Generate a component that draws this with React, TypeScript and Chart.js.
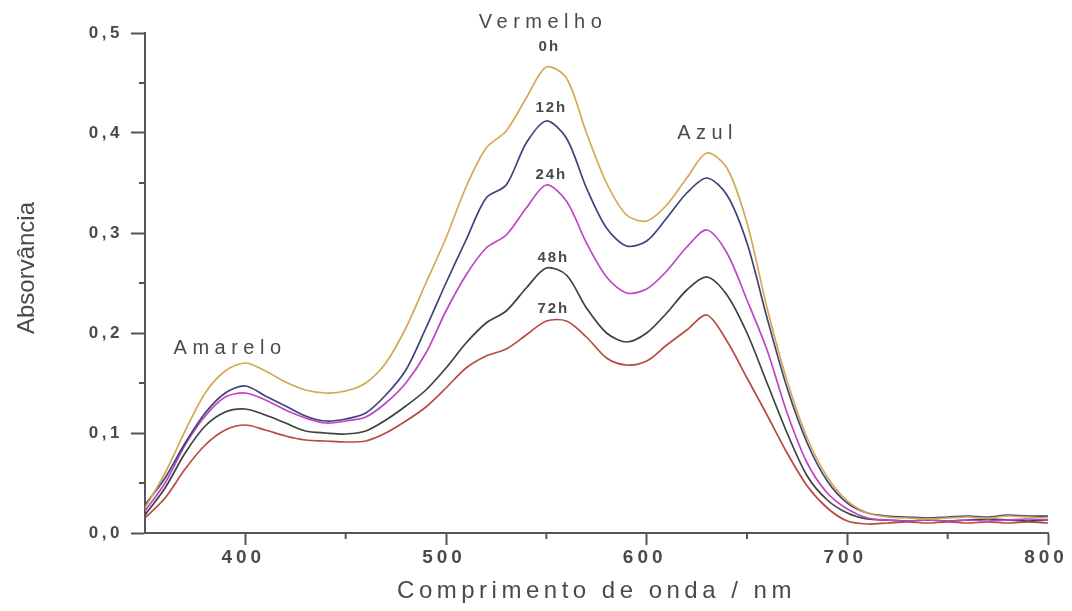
import React, { useEffect, useRef } from 'react';
import { Chart, registerables } from 'chart.js';

Chart.register(...registerables);

// Wavelength (nm)
const wavelengths = [
  350, 360, 370, 380, 390, 400, 410, 420, 430, 440,
  450, 460, 470, 480, 490, 500, 510, 520, 530, 540,
  550, 560, 570, 580, 590, 600, 610, 620, 630, 640,
  650, 660, 670, 680, 690, 700, 710, 720, 730, 740,
  750, 760, 770, 780, 790, 800,
];

const abs0h = [
  0.025, 0.06, 0.102, 0.14, 0.162, 0.17, 0.162, 0.151, 0.143, 0.14,
  0.142, 0.15, 0.17, 0.205, 0.25, 0.295, 0.346, 0.385, 0.402, 0.435,
  0.466, 0.455, 0.4, 0.35, 0.318, 0.312, 0.328, 0.355, 0.38, 0.365,
  0.31, 0.225, 0.152, 0.095, 0.056, 0.032, 0.02, 0.016, 0.015, 0.014,
  0.015, 0.016, 0.015, 0.017, 0.016, 0.015,
];

const abs12h = [
  0.028, 0.055, 0.09, 0.12, 0.14, 0.147, 0.137, 0.127, 0.117, 0.112,
  0.114, 0.12, 0.138, 0.163, 0.205, 0.25, 0.293, 0.335, 0.348, 0.39,
  0.412, 0.395, 0.345, 0.305, 0.287, 0.292, 0.315, 0.34, 0.355, 0.338,
  0.29, 0.215, 0.145, 0.09, 0.052, 0.03, 0.02, 0.017, 0.016, 0.015,
  0.016, 0.017, 0.016, 0.018, 0.017, 0.017,
];

const abs24h = [
  0.022, 0.05, 0.088, 0.117, 0.136, 0.14, 0.133, 0.123, 0.115, 0.11,
  0.112, 0.116, 0.13, 0.15, 0.18, 0.222, 0.258, 0.285, 0.298, 0.325,
  0.348, 0.332, 0.29, 0.256, 0.24, 0.244, 0.262, 0.286, 0.303, 0.28,
  0.233, 0.183, 0.12, 0.07, 0.04, 0.024, 0.015, 0.013, 0.012, 0.013,
  0.012, 0.013, 0.012, 0.013, 0.014, 0.013,
];

const abs48h = [
  0.018, 0.045, 0.08, 0.107, 0.121, 0.124, 0.118, 0.11, 0.102, 0.1,
  0.099, 0.102, 0.113, 0.127, 0.143, 0.165, 0.19, 0.21, 0.222, 0.245,
  0.265, 0.258, 0.225, 0.2, 0.191, 0.2, 0.22, 0.243, 0.256, 0.238,
  0.2, 0.15, 0.1, 0.057, 0.033, 0.02, 0.014, 0.013, 0.012, 0.013,
  0.012, 0.013, 0.014, 0.013, 0.012, 0.013,
];

const abs72h = [
  0.015, 0.035, 0.064, 0.088, 0.103, 0.108, 0.103, 0.097, 0.093, 0.092,
  0.091, 0.092, 0.1, 0.112, 0.126, 0.145, 0.165, 0.177, 0.184, 0.198,
  0.212, 0.212, 0.196, 0.175, 0.168, 0.172, 0.188, 0.203, 0.218, 0.192,
  0.155, 0.118, 0.08, 0.047, 0.025, 0.012, 0.009, 0.01, 0.011, 0.01,
  0.011, 0.01, 0.011, 0.01, 0.011, 0.01,
];

const seriesLabels = ['0h', '12h', '24h', '48h', '72h'];
const seriesValues = [abs0h, abs12h, abs24h, abs48h, abs72h];
const seriesColors = ['#d6a852', '#3d4479', '#c045c6', '#39443e', '#b84a42'];

const xTicks = [400, 500, 600, 700, 800];
const xMinorTicks = [450, 550, 650, 750];
const yTicks = [0, 0.1, 0.2, 0.3, 0.4, 0.5];
const yMinorTicks = [0.05, 0.15, 0.25, 0.35, 0.45];

// In-plot annotations (text, wavelength, absorbance)
const annLabels = ['Vermelho', '0h', '12h', '24h', '48h', '72h', 'Azul', 'Amarelo'];
const annX = [547, 551, 552, 552, 553, 553, 629, 391];
const annY = [0.511, 0.486, 0.425, 0.358, 0.275, 0.224, 0.4, 0.185];

const FONT = "'Liberation Sans', Arial, sans-serif";
const AXIS_COLOR = '#555555';
const TEXT_COLOR = '#4a4a4a';

function patch(scale: any, method: string, spacing: number, dx = 0, dy = 0) {
  const key = '__patched_' + method;
  if (scale[key]) return;
  scale[key] = true;
  const orig = scale[method];
  scale[method] = function (...args: any[]) {
    const ctx = this.ctx;
    ctx.save();
    (ctx as any).letterSpacing = spacing + 'px';
    if (dx || dy) ctx.translate(dx, dy);
    orig.apply(this, args);
    ctx.restore();
  };
}

const minorTicksPlugin = {
  id: 'minorTicks',
  afterDraw(chart: any) {
    const { ctx, scales } = chart;
    const x = scales.x;
    const y = scales.y;
    ctx.save();
    ctx.strokeStyle = AXIS_COLOR;
    ctx.lineWidth = 2;
    xMinorTicks.forEach((v) => {
      const px = x.getPixelForValue(v);
      ctx.beginPath();
      ctx.moveTo(px, y.bottom);
      ctx.lineTo(px, y.bottom + 6);
      ctx.stroke();
    });
    yMinorTicks.forEach((v) => {
      const py = y.getPixelForValue(v);
      ctx.beginPath();
      ctx.moveTo(x.left, py);
      ctx.lineTo(x.left - 6, py);
      ctx.stroke();
    });
    ctx.restore();
  },
};

const annotationPlugin = {
  id: 'annotations',
  afterDatasetsDraw(chart: any) {
    const { ctx, scales } = chart;
    ctx.save();
    ctx.fillStyle = TEXT_COLOR;
    ctx.textAlign = 'center';
    ctx.textBaseline = 'middle';
    annLabels.forEach((t, i) => {
      const big = t.length > 3;
      const spacing = big ? 5.5 : 2;
      ctx.font = big ? `20px ${FONT}` : `bold 15px ${FONT}`;
      (ctx as any).letterSpacing = spacing + 'px';
      const px = scales.x.getPixelForValue(annX[i]);
      const py = scales.y.getPixelForValue(annY[i]);
      ctx.fillText(t, px + spacing / 2, py);
    });
    ctx.restore();
  },
};

export default function App() {
  const canvasRef = useRef<HTMLCanvasElement | null>(null);

  useEffect(() => {
    const canvas = canvasRef.current;
    if (!canvas) return;
    const chart = new Chart(canvas, {
      type: 'line',
      data: {
        datasets: seriesLabels.map((label, i) => ({
          label,
          data: wavelengths.map((w, j) => ({ x: w, y: seriesValues[i][j] })),
          borderColor: seriesColors[i],
          backgroundColor: seriesColors[i],
          borderWidth: 1.7,
          pointRadius: 0,
          tension: 0.3,
          fill: false,
        })),
      },
      options: {
        responsive: false,
        animation: false,
        layout: { padding: { top: 33, right: 24, left: 0, bottom: 0 } },
        plugins: {
          legend: { display: false },
          tooltip: { enabled: false },
        },
        scales: {
          x: {
            type: 'linear',
            min: 350,
            max: 800,
            afterBuildTicks: (s: any) => {
              s.ticks = xTicks.map((v) => ({ value: v }));
            },
            afterFit: (s: any) => {
              s.height = 78;
              patch(s, 'drawLabels', 4, -2, 0);
              patch(s, 'drawTitle', 4.5, 0, 0);
            },
            grid: {
              drawOnChartArea: false,
              drawTicks: true,
              tickLength: 12,
              tickWidth: 2,
              tickColor: AXIS_COLOR,
            },
            border: { display: true, color: AXIS_COLOR, width: 2 },
            ticks: {
              color: TEXT_COLOR,
              font: { family: FONT, size: 19, weight: 'bold' },
              padding: 1,
              maxRotation: 0,
              autoSkip: false,
              callback: (v: any) => String(v),
            },
            title: {
              display: true,
              text: 'Comprimento de onda / nm',
              color: TEXT_COLOR,
              font: { family: FONT, size: 24 },
              padding: { top: 0, bottom: 5 },
            },
          },
          y: {
            type: 'linear',
            min: 0,
            max: 0.5,
            afterBuildTicks: (s: any) => {
              s.ticks = yTicks.map((v) => ({ value: v }));
            },
            afterFit: (s: any) => {
              s.width = 145;
              patch(s, 'drawLabels', 3.5, 0, 0);
              patch(s, 'drawTitle', 0, 0, -15);
            },
            grid: {
              drawOnChartArea: false,
              drawTicks: true,
              tickLength: 14,
              tickWidth: 2,
              tickColor: AXIS_COLOR,
            },
            border: { display: true, color: AXIS_COLOR, width: 2 },
            ticks: {
              color: TEXT_COLOR,
              font: { family: FONT, size: 17, weight: 'bold' },
              padding: 8,
              autoSkip: false,
              callback: (v: any) => Number(v).toFixed(1).replace('.', ','),
            },
            title: {
              display: true,
              text: 'Absorvância',
              color: TEXT_COLOR,
              font: { family: FONT, size: 24 },
              padding: { top: 13, bottom: 0 },
            },
          },
        },
      } as any,
      plugins: [minorTicksPlugin, annotationPlugin],
    });
    return () => chart.destroy();
  }, []);

  return (
    <div style={{ position: 'absolute', left: 0, top: 0, width: 1072, height: 611, background: '#fff' }}>
      <canvas ref={canvasRef} width={1072} height={611} style={{ display: 'block' }} />
    </div>
  );
}
